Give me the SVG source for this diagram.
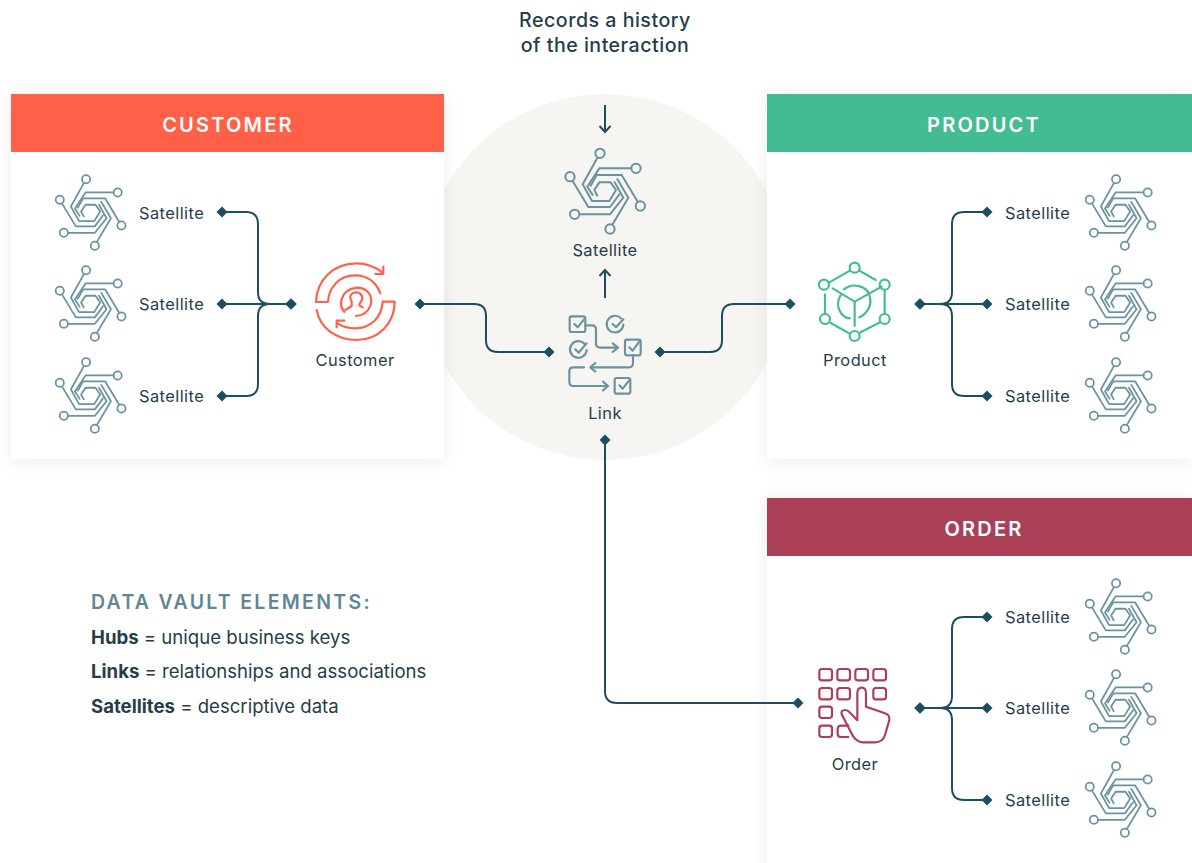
<svg xmlns="http://www.w3.org/2000/svg" xmlns:xlink="http://www.w3.org/1999/xlink" width="1192" height="863" viewBox="0 0 1192 863">
<style>
text{font-family:"Inter","Open Sans",sans-serif;fill:#253e49}
.lbl{font-size:16.4px;font-weight:400;letter-spacing:.45px}
.hd{font-size:20px;font-weight:600;fill:#fff;letter-spacing:2.2px;text-anchor:middle}
.mid{text-anchor:middle}
.note{font-size:19.6px;font-weight:500;text-anchor:middle;letter-spacing:.5px}
.leg{font-size:18.6px;font-weight:400}
.card{fill:#fff;filter:url(#sh)}
.con{fill:none;stroke:#1c4e60;stroke-width:2;marker-start:url(#dia);marker-end:url(#dia)}
.arr{fill:none;stroke:#1c4e60;stroke-width:2;marker-end:url(#open)}
.ic{fill:none;stroke-width:6.500;stroke-linecap:round;stroke-linejoin:round}
</style>
<defs>
<filter id="sh" x="-10%" y="-10%" width="120%" height="120%"><feDropShadow dx="0" dy="2" stdDeviation="8" flood-color="#000" flood-opacity=".08"/></filter>
<marker id="dia" viewBox="-6 -6 12 12" markerWidth="12" markerHeight="12" markerUnits="userSpaceOnUse" orient="auto"><path d="M0-5.500 5.500 0 0 5.500-5.500 0Z" fill="#1c4e60"/></marker>
<marker id="open" viewBox="-10 -7 12 14" markerWidth="12" markerHeight="14" markerUnits="userSpaceOnUse" orient="auto"><path d="M-6-5.500 0 0-6 5.500" fill="none" stroke="#1c4e60" stroke-width="2"/></marker>
<g id="sat" class="ic" stroke="#6b939f" style="stroke-width:6">
<g transform="scale(.2924)">
<circle cx="120" cy="25" r="14"/><circle cx="228" cy="70" r="14"/><circle cx="241" cy="183" r="14"/><circle cx="150" cy="252" r="14"/><circle cx="44" cy="208" r="14"/><circle cx="30" cy="95" r="14"/>
<path d="M112 39 68 118 96 168H148L168 135 152 112H118L103 135 112 152"/>
<path d="M214 70H118L82 125 98 150"/>
<path d="M233 170 185 90H110L92 122"/>
<path d="M157 239 205 158 172 102"/>
<path d="M59 208H150L190 158 164 112"/>
<path d="M38 108 85 186H150L178 148"/>
</g>
</g>
</defs>
<circle cx="605" cy="277" r="183" fill="#f6f5f2"/>
<g id="customer-card"><rect class="card" x="11" y="94" width="433" height="365"/><rect x="11" y="94" width="433" height="58" fill="#ff6047"/><text class="hd" x="228" y="131.500">CUSTOMER</text></g>
<g id="product-card"><rect class="card" x="767" y="94" width="425" height="365"/><rect x="767" y="94" width="425" height="58" fill="#44bc93"/><text class="hd" x="984" y="131.500">PRODUCT</text></g>
<g id="order-card"><rect class="card" x="767" y="498" width="425" height="380"/><rect x="767" y="498" width="425" height="58" fill="#ab3f58"/><text class="hd" x="984" y="536">ORDER</text></g>
<g id="connectors">
<path class="con" d="M222 212H246Q258 212 258 224V292Q258 304 270 304H291"/>
<path class="con" d="M222 304H291"/>
<path class="con" d="M222 396H246Q258 396 258 384V316Q258 304 270 304H291"/>
<path class="con" d="M420 304H474Q486 304 486 316V340Q486 352 498 352H549"/>
<path class="con" d="M660 352H710Q722 352 722 340V316Q722 304 734 304H790"/>
<path class="con" d="M920 304H940Q952 304 952 292V224Q952 212 964 212H987"/>
<path class="con" d="M920 304H987"/>
<path class="con" d="M920 304H940Q952 304 952 316V384Q952 396 964 396H987"/>
<path class="con" d="M605 440V691Q605 703 617 703H798"/>
<path class="con" d="M920 708H940Q952 708 952 696V629Q952 617 964 617H987"/>
<path class="con" d="M920 708H987"/>
<path class="con" d="M920 708H940Q952 708 952 720V788Q952 800 964 800H987"/>
<path class="arr" d="M605 105V132"/>
<path class="arr" d="M605 298V270"/>
</g>
<g id="note"><text class="note" x="605" y="27">Records a history</text><text class="note" x="605" y="52">of the interaction</text></g>
<g id="customer-sats">
<use href="#sat" x="51" y="172"/><text class="lbl" x="139" y="219">Satellite</text>
<use href="#sat" x="51" y="263"/><text class="lbl" x="139" y="310">Satellite</text>
<use href="#sat" x="51" y="355"/><text class="lbl" x="139" y="402">Satellite</text>
</g>
<g id="customer-hub">
<g class="ic" stroke="#ff6047" transform="translate(300 250) scale(.3333)">
<path d="M48 156C50 90 100 40 170 40 200 40 225 50 248 68"/><path d="M226 72H250V50"/>
<path d="M48 156H84C86 110 120 76 165 76 200 76 228 95 241 130"/>
<path d="M50 180C60 235 110 270 170 270 235 270 284 220 284 155H248C245 205 210 235 165 235 145 235 128 230 113 220"/><path d="M110 232V212H133"/>
<path d="M133 186C115 165 120 120 170 113 200 113 220 135 212 165 205 185 190 197 168 198"/>
<path d="M136 180 155 168V155C135 120 195 118 186 150 180 160 178 160 178 166L188 172"/>
</g>
<text class="lbl mid" x="355" y="366">Customer</text></g>
<g id="link">
<g class="ic" stroke="#6b939f" transform="translate(540 300) scale(.3333)">
<rect x="89" y="49" width="47" height="47" rx="6"/><path d="M103 72 113 82 132 58"/>
<path d="M136 76H155Q168 76 168 89V130Q168 143 181 143H232"/><path d="M218 130 234 143 218 156"/>
<path d="M243 55A25 25 0 1 0 250 74"/><path d="M218 72 228 82 250 58"/>
<path d="M133 131A25 25 0 1 0 140 150"/><path d="M106 148 116 158 140 130"/>
<rect x="255" y="119" width="47" height="47" rx="6"/><path d="M268 142 278 152 300 122"/>
<path d="M279 166V190Q279 202 267 202H153"/><path d="M166 189 151 202 166 215"/>
<path d="M132 202H100Q88 202 88 214V245Q88 258 100 258H203"/><path d="M189 245 204 258 189 271"/>
<rect x="224" y="234" width="47" height="47" rx="6"/><path d="M238 256 248 266 270 238"/>
</g>
<text class="lbl mid" x="605" y="419">Link</text></g>
<g id="center-sat"><use href="#sat" transform="translate(560 145) scale(1.14)"/><text class="lbl mid" x="605" y="256">Satellite</text></g>
<g id="product-hub">
<g class="ic" stroke="#44bc93" transform="translate(800 250) scale(.3333)">
<circle cx="164" cy="53" r="15"/><circle cx="72" cy="104" r="15"/><circle cx="254" cy="104" r="15"/><circle cx="75" cy="207" r="15"/><circle cx="254" cy="207" r="15"/><circle cx="164" cy="258" r="15"/>
<path d="M150 62 88 97M178 62 227 90M75 133V190M254 120V190M92 219 148 250M182 247 238 218"/>
<path d="M98 115 164 155 245 110M164 155V228"/>
<path d="M122 135C100 175 130 205 150 205M132 118C160 95 200 110 208 135 220 170 195 195 178 202"/>
</g>
<text class="lbl mid" x="855" y="366">Product</text></g>
<g id="product-sats">
<use href="#sat" x="1081" y="172"/><text class="lbl" x="1005" y="219">Satellite</text>
<use href="#sat" x="1081" y="263"/><text class="lbl" x="1005" y="310">Satellite</text>
<use href="#sat" x="1081" y="355"/><text class="lbl" x="1005" y="402">Satellite</text>
</g>
<g id="order-hub">
<g class="ic" stroke="#ab3f58" transform="translate(800 655) scale(.3333)">
<rect x="58" y="42" width="38" height="34" rx="8"/><rect x="112" y="42" width="38" height="34" rx="8"/><rect x="166" y="42" width="38" height="34" rx="8"/><rect x="220" y="42" width="38" height="34" rx="8"/>
<rect x="58" y="99" width="38" height="34" rx="8"/><rect x="112" y="99" width="38" height="34" rx="8"/><rect x="220" y="99" width="38" height="34" rx="8"/>
<rect x="58" y="155" width="38" height="34" rx="8"/><rect x="58" y="212" width="38" height="34" rx="8"/>
<path d="M145 212H125Q113 212 113 222V236Q113 246 125 246H145"/>
<path d="M172 196V115Q172 98 185 98 198 98 198 115V155L255 175Q270 180 268 195L255 240Q248 262 225 262H190Q172 262 160 245L125 178Q122 165 135 165 143 165 150 173Z"/>
</g>
<text class="lbl mid" x="855" y="770">Order</text></g>
<g id="order-sats">
<use href="#sat" x="1081" y="576"/><text class="lbl" x="1005" y="623">Satellite</text>
<use href="#sat" x="1081" y="667"/><text class="lbl" x="1005" y="714">Satellite</text>
<use href="#sat" x="1081" y="759"/><text class="lbl" x="1005" y="806">Satellite</text>
</g>
<g id="legend">
<text x="91" y="609" style="font-size:19.500px;font-weight:600;fill:#5f8793;letter-spacing:2.3px">DATA VAULT ELEMENTS:</text>
<text class="leg" x="91" y="644"><tspan font-weight="700">Hubs</tspan> = unique business keys</text>
<text class="leg" x="91" y="678"><tspan font-weight="700">Links</tspan> = relationships and associations</text>
<text class="leg" x="91" y="713"><tspan font-weight="700">Satellites</tspan> = descriptive data</text>
</g>
</svg>
